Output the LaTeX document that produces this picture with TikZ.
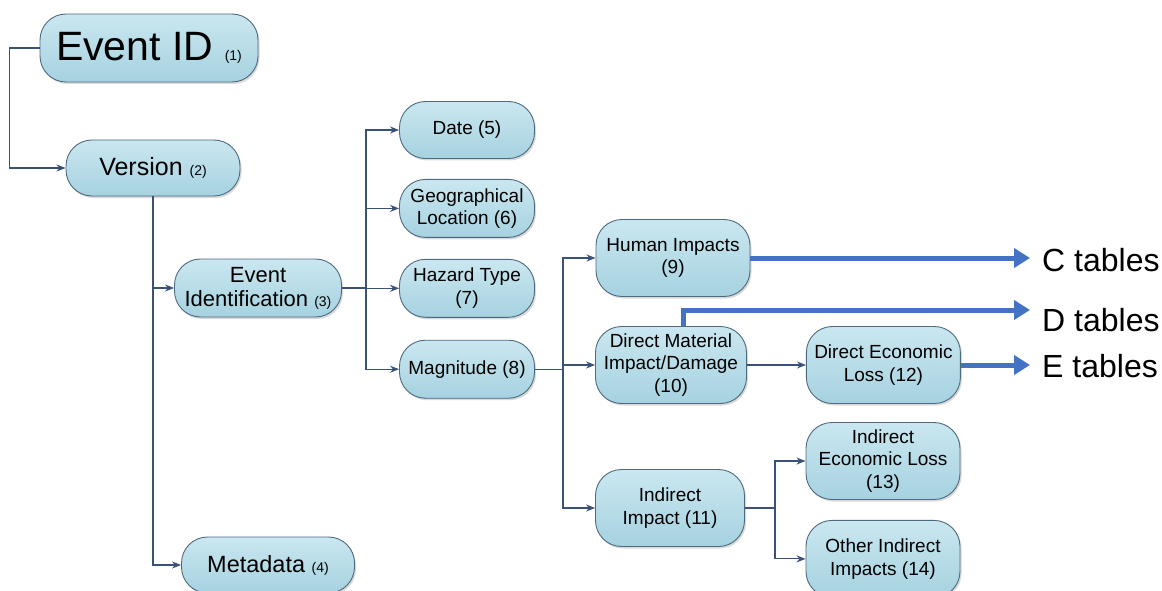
\documentclass[tikz,border=0pt]{standalone}
\usepackage{fontspec}
\setmainfont{Liberation Sans}
\usetikzlibrary{positioning,arrows.meta,shadows}
\definecolor{boxtop}{RGB}{202,231,240}
\definecolor{boxbot}{RGB}{166,210,224}
\definecolor{boxline}{RGB}{78,106,128}
\definecolor{connline}{RGB}{58,82,118}
\definecolor{tabblue}{RGB}{68,114,196}
\newcommand{\idx}[1]{{\fontsize{14}{14}\selectfont #1}}

\begin{document}
\begin{tikzpicture}
[x=1pt,y=-1pt,
 box/.style={draw=boxline,line width=0.9pt,top color=boxtop,bottom color=boxbot,
   rounded corners=26pt,align=center,inner sep=2pt,font=\fontsize{19}{22.5}\selectfont,
   drop shadow={shadow xshift=1.5pt,shadow yshift=-2pt,opacity=0.3}},
 conn/.style={draw=connline,line width=1.1pt,-{Stealth[length=9pt,width=7pt]}},
 tab/.style={draw=tabblue,line width=5pt,-{Triangle[length=16pt,width=19pt]}},
 tabtext/.style={anchor=west,inner xsep=12pt,font=\fontsize{32}{32}\selectfont}]
\useasboundingbox (0,0) rectangle (1162,591);
\node[box,minimum width=218pt,minimum height=68pt,font=\fontsize{41}{41}\selectfont]
  (eid) at (149,48) {Event ID \idx{(1)}};
\node[box,minimum width=174pt,minimum height=56pt,font=\fontsize{25}{25}\selectfont]
  (ver) at (153,168) {Version \idx{(2)}};
\node[box,minimum width=167pt,minimum height=58pt,font=\fontsize{22}{24}\selectfont]
  (eident) at (258,288) {Event\\Identification \idx{(3)}};
\node[box,minimum width=173pt,minimum height=56pt,font=\fontsize{23.5}{23.5}\selectfont]
  (meta) at (268,565) {Metadata \idx{(4)}};
\node[box,minimum width=135pt,minimum height=57pt] (date) at (467,130) {Date (5)};
\node[box,minimum width=135pt,minimum height=58pt,below=20pt of date] (geo)
  {Geographical\\Location (6)};
\node[box,minimum width=135pt,minimum height=58pt,below=21pt of geo] (haz)
  {Hazard Type\\(7)};
\node[box,minimum width=135pt,minimum height=58pt,below=22pt of haz] (mag)
  {Magnitude (8)};
\node[box,minimum width=154pt,minimum height=77pt] (hum) at (673,258)
  {Human Impacts\\(9)};
\node[box,minimum width=151pt,minimum height=77pt] (dmat) at (671,365)
  {Direct Material\\Impact/Damage\\(10)};
\node[box,minimum width=149pt,minimum height=77pt] (ind) at (670,508)
  {Indirect\\Impact (11)};
\node[box,minimum width=154pt,minimum height=77pt,right=59pt of dmat] (dloss)
  {Direct Economic\\Loss (12)};
\node[box,minimum width=154pt,minimum height=77pt] (iloss) at (883,461)
  {Indirect\\Economic Loss\\(13)};
\node[box,minimum width=154pt,minimum height=77pt,below=20pt of iloss] (oind)
  {Other Indirect\\Impacts (14)};
\node[tabtext] (ctab) at (1030,260) {C tables};
\node[tabtext] (dtab) at (1030,320) {D tables};
\node[tabtext] (etab) at (1030,366) {E tables};
\coordinate (dtip) at (1030,310);
\draw[conn] (eid.west) -- ++(-30,0) |- (ver.west);
\draw[conn] (ver.south) |- (eident.west);
\draw[conn] (ver.south) |- (meta.west);
\foreach \n in {date,geo,haz,mag} \draw[conn] (eident.east) -- ++(24,0) |- (\n.west);
\foreach \n in {hum,dmat,ind} \draw[conn] (mag.east) -- ++(28,0) |- (\n.west);
\draw[conn] (dmat.east) -- (dloss.west);
\foreach \n in {iloss,oind} \draw[conn] (ind.east) -- ++(30,0) |- (\n.west);
\draw[tab] (hum.east) -- (hum.east -| ctab.west);
\draw[tab] (dmat.north) ++(12,0) |- (dtip);
\draw[tab] (dloss.east) -- (dloss.east -| etab.west);
\end{tikzpicture}
\end{document}
